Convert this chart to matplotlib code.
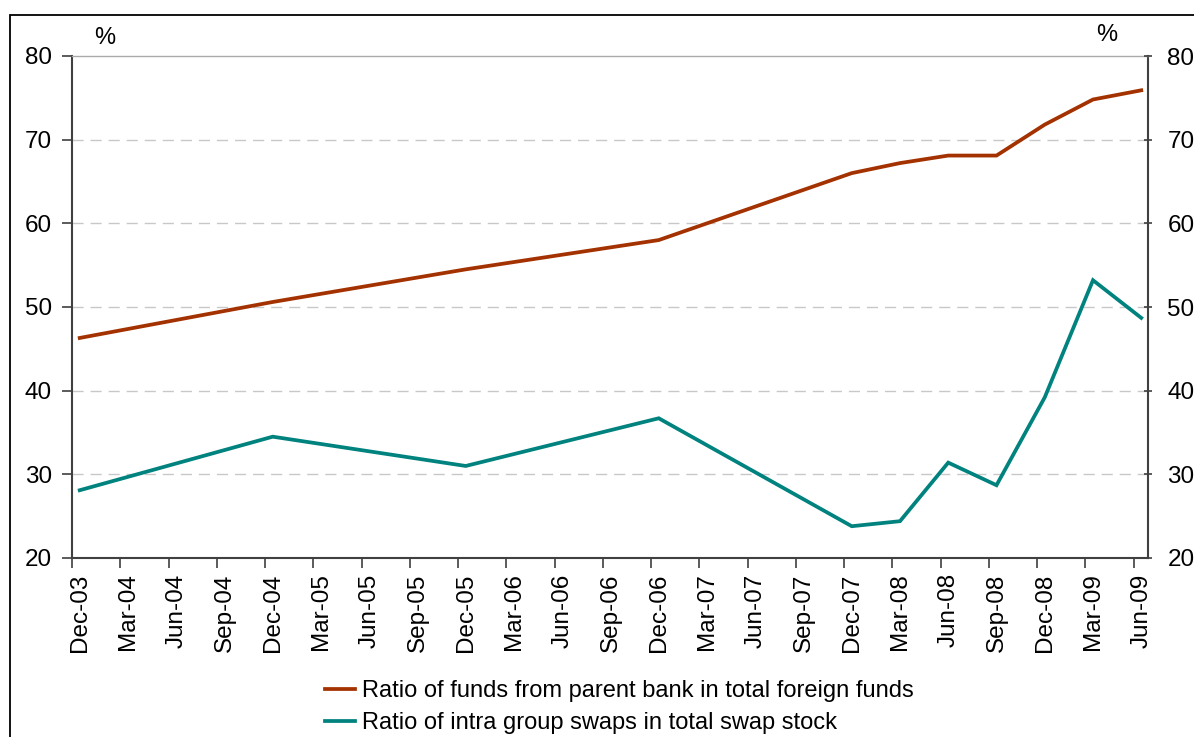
import numpy as np
import matplotlib.pyplot as plt
from matplotlib.patches import Rectangle

plt.rcParams['font.family'] = ['Liberation Sans', 'DejaVu Sans']

# quarterly category axis Dec-03 .. Jun-09
quarters = ['Dec-03', 'Mar-04', 'Jun-04', 'Sep-04', 'Dec-04', 'Mar-05', 'Jun-05', 'Sep-05',
            'Dec-05', 'Mar-06', 'Jun-06', 'Sep-06', 'Dec-06', 'Mar-07', 'Jun-07', 'Sep-07',
            'Dec-07', 'Mar-08', 'Jun-08', 'Sep-08', 'Dec-08', 'Mar-09', 'Jun-09']

# observation dates and values (%)
obs_dates = ['Dec-03', 'Dec-04', 'Dec-05', 'Dec-06', 'Dec-07', 'Mar-08', 'Jun-08',
             'Sep-08', 'Dec-08', 'Mar-09', 'Jun-09']
parent_funds = [46.3, 50.6, 54.5, 58.0, 66.0, 67.2, 68.1, 68.1, 71.8, 74.8, 75.9]
intra_swaps = [28.1, 34.5, 31.0, 36.7, 23.8, 24.4, 31.4, 28.7, 39.2, 53.2, 48.7]

label_parent = 'Ratio of funds from parent bank in total foreign funds'
label_swaps = 'Ratio of intra group swaps in total swap stock'

W, H = 1194, 737
fig = plt.figure(figsize=(W / 100, H / 100), dpi=100)
ax = fig.add_axes([72 / W, 1 - 558 / H, (1148 - 72) / W, (558 - 56) / H])

x_obs = [quarters.index(d) for d in obs_dates]
ax.plot(x_obs, parent_funds, color='#A33200', lw=2.7, solid_joinstyle='miter', label=label_parent)
ax.plot(x_obs, intra_swaps, color='#00827F', lw=2.7, solid_joinstyle='miter', label=label_swaps)

ax.set_ylim(20, 80)
ax.set_xlim(-0.145, 22.14)
ax.set_yticks(np.arange(20, 81, 10))
for yv in range(30, 80, 10):
    ax.axhline(yv, color='#c8c8c8', lw=1, dashes=(8, 5), zorder=0)

# labels centred on the points, tick marks slightly to the left (Excel date axis)
idx = np.arange(len(quarters))
ax.set_xticks(idx)
ax.set_xticklabels(quarters, rotation=90, fontsize=17.5)
ax.tick_params(axis='x', which='major', length=0, pad=11)
ax.set_xticks(idx - 0.16, minor=True)
ax.tick_params(axis='x', which='minor', length=7, width=1.2, color='#404040', direction='out')
ax.tick_params(axis='y', labelsize=17.5, length=7, width=1.2, color='#404040', pad=7.5)

for s in ['left', 'bottom', 'right']:
    ax.spines[s].set_color('#404040')
    ax.spines[s].set_linewidth(1.5)
ax.spines['top'].set_color('#aaaaaa')
ax.spines['top'].set_linewidth(1)

ax2 = ax.twinx()
ax2.set_ylim(20, 80)
ax2.set_yticks(np.arange(20, 81, 10))
ax2.tick_params(axis='y', labelsize=17.5, length=6, width=1.2, color='#404040', direction='inout', pad=11)
for s in ax2.spines.values():
    s.set_visible(False)

fig.text(105 / W, 1 - 38 / H, '%', fontsize=17, ha='center', va='center')
fig.text(1107 / W, 1 - 35 / H, '%', fontsize=17, ha='center', va='center')

fig.legend(loc='upper left', bbox_to_anchor=(325 / W, 1 - 680 / H), frameon=False,
           fontsize=17, handlelength=1.27, handletextpad=0.3, labelspacing=0.42,
           borderpad=0, borderaxespad=0)

fig.patches.append(Rectangle((10 / W, -0.1), 1.2, 1 - 15 / H + 0.1, transform=fig.transFigure,
                             fill=False, edgecolor='black', lw=1.3))

fig.savefig('out.png', dpi=100)
